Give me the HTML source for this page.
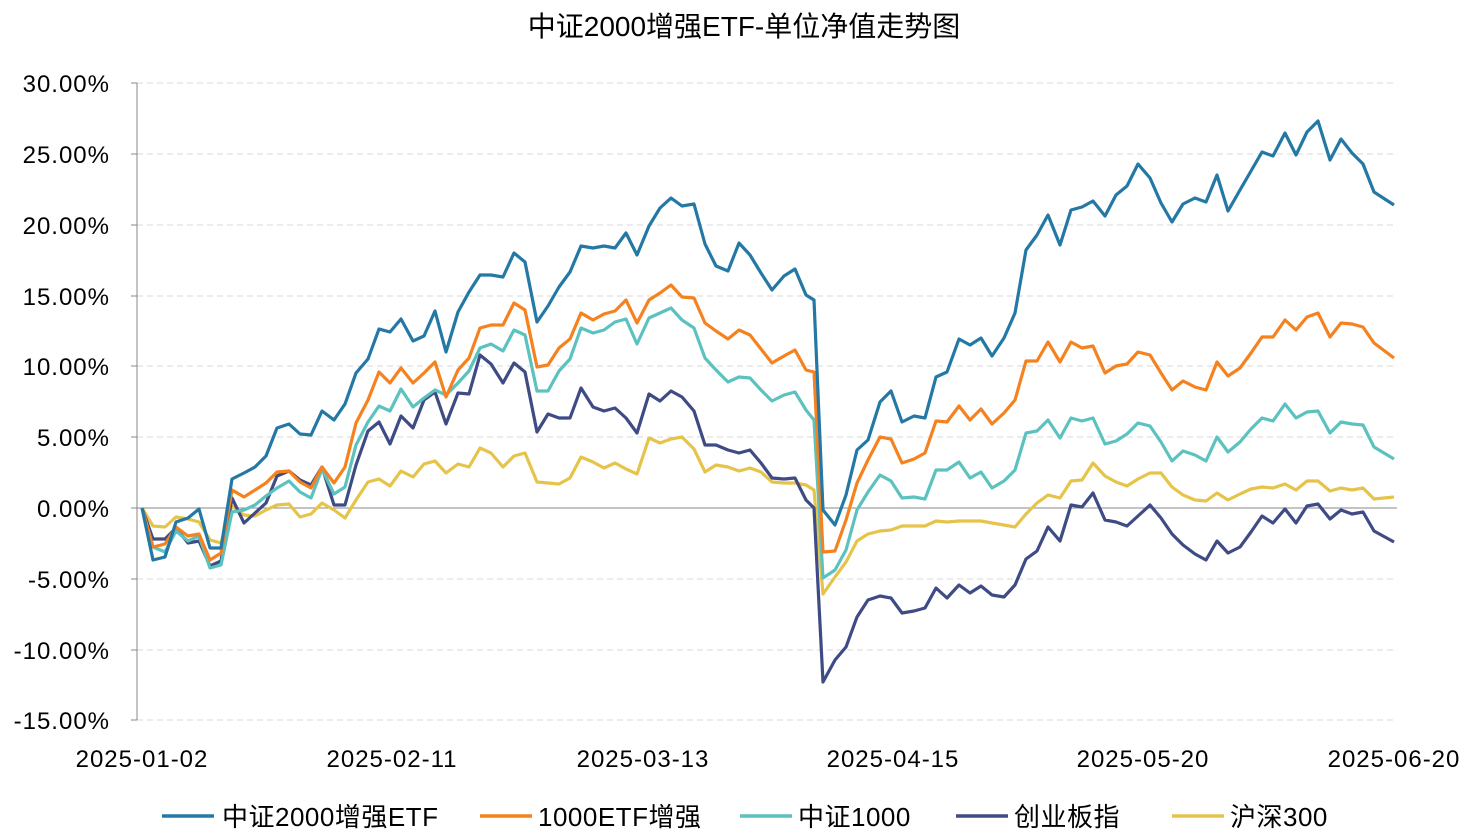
<!DOCTYPE html>
<html><head><meta charset="utf-8"><style>
body{margin:0;background:#fff}
svg{display:block}
text{font-family:"Liberation Sans","Noto Sans CJK SC",sans-serif;fill:#000}
.y{font-size:24px;text-anchor:end;letter-spacing:1px}
.x{font-size:24px;text-anchor:middle;letter-spacing:1px}
.l{fill:none;stroke-width:3.2;stroke-linejoin:round}
</style></head><body>
<svg width="1483" height="839" viewBox="0 0 1483 839">
<text x="744" y="36" font-size="28" text-anchor="middle">中证2000增强ETF-单位净值走势图</text>
<g stroke="#d9d9d9" stroke-dasharray="6,4" stroke-width="1">
<line x1="137" x2="1397" y1="83" y2="83"/><line x1="137" x2="1397" y1="154" y2="154"/><line x1="137" x2="1397" y1="225" y2="225"/><line x1="137" x2="1397" y1="296" y2="296"/><line x1="137" x2="1397" y1="366" y2="366"/><line x1="137" x2="1397" y1="437" y2="437"/><line x1="137" x2="1397" y1="579" y2="579"/><line x1="137" x2="1397" y1="650" y2="650"/><line x1="137" x2="1397" y1="720" y2="720"/>
</g>
<line x1="137" x2="137" y1="83" y2="720" stroke="#888"/>
<line x1="137" x2="1397" y1="508" y2="508" stroke="#888"/>
<g stroke="#888">
<line x1="131" x2="137" y1="83" y2="83"/><line x1="131" x2="137" y1="154" y2="154"/><line x1="131" x2="137" y1="225" y2="225"/><line x1="131" x2="137" y1="296" y2="296"/><line x1="131" x2="137" y1="366" y2="366"/><line x1="131" x2="137" y1="437" y2="437"/><line x1="131" x2="137" y1="508" y2="508"/><line x1="131" x2="137" y1="579" y2="579"/><line x1="131" x2="137" y1="650" y2="650"/><line x1="131" x2="137" y1="720" y2="720"/>
</g>
<text class="y" x="110" y="92">30.00%</text><text class="y" x="110" y="163">25.00%</text><text class="y" x="110" y="234">20.00%</text><text class="y" x="110" y="305">15.00%</text><text class="y" x="110" y="375">10.00%</text><text class="y" x="110" y="446">5.00%</text><text class="y" x="110" y="517">0.00%</text><text class="y" x="110" y="588">-5.00%</text><text class="y" x="110" y="659">-10.00%</text><text class="y" x="110" y="729">-15.00%</text>
<text class="x" x="142" y="767">2025-01-02</text><text class="x" x="392" y="767">2025-02-11</text><text class="x" x="643" y="767">2025-03-13</text><text class="x" x="893" y="767">2025-04-15</text><text class="x" x="1143" y="767">2025-05-20</text><text class="x" x="1394" y="767">2025-06-20</text>
<polyline class="l" stroke="#e6c44a" points="142,508 153,526 165,527 176,517 188,519 199,522 210,540 221,543 232,506 244,515 255,516 266,510 277,505 289,504 300,517 311,514 322,503 334,510 345,518 356,500 368,482 379,479 390,486 401,471 413,477 424,464 435,461 446,473 458,464 469,467 480,448 491,453 503,467 514,456 525,453 537,482 548,483 559,484 570,478 581,457 593,462 604,468 615,463 626,469 637,474 649,438 660,443 671,439 682,437 694,449 705,472 716,465 728,467 739,471 750,468 761,472 772,482 784,483 795,483 806,485 814,490 823,594 835,577 846,562 857,541 868,534 880,531 891,530 902,526 914,526 925,526 936,521 947,522 959,521 970,521 981,521 992,523 1004,525 1015,527 1026,514 1037,503 1048,495 1060,498 1071,481 1082,480 1093,463 1105,476 1116,482 1127,486 1138,479 1150,473 1161,473 1172,487 1183,495 1195,500 1206,501 1217,493 1228,500 1240,494 1251,489 1262,487 1273,488 1285,484 1296,490 1307,481 1318,481 1330,491 1341,488 1352,490 1363,488 1374,499 1394,497"/>
<polyline class="l" stroke="#3f4b84" points="142,508 153,539 165,539 176,528 188,543 199,541 210,566 221,561 232,498 244,523 255,513 266,503 277,476 289,471 300,480 311,485 322,467 334,505 345,505 356,465 368,431 379,422 390,444 401,416 413,428 424,400 435,392 446,424 458,393 469,394 480,355 491,364 503,383 514,363 525,372 537,432 548,414 559,418 570,418 581,388 593,407 604,411 615,408 626,418 637,433 649,394 660,401 671,391 682,397 694,411 705,445 716,445 728,450 739,453 750,450 761,463 772,478 784,479 795,478 806,500 814,508 823,682 835,660 846,647 857,617 868,600 880,596 891,598 902,613 914,611 925,608 936,588 947,598 959,585 970,593 981,586 992,595 1004,597 1015,585 1026,559 1037,551 1048,527 1060,541 1071,505 1082,507 1093,493 1105,520 1116,522 1127,526 1138,516 1150,505 1161,518 1172,534 1183,545 1195,554 1206,560 1217,541 1228,553 1240,547 1251,532 1262,516 1273,523 1285,509 1296,523 1307,506 1318,504 1330,519 1341,510 1352,514 1363,512 1374,531 1394,542"/>
<polyline class="l" stroke="#5bc2bf" points="142,508 153,547 165,552 176,531 188,541 199,536 210,568 221,565 232,512 244,510 255,505 266,496 277,488 289,481 300,492 311,498 322,469 334,494 345,487 356,445 368,422 379,406 390,411 401,389 413,407 424,398 435,390 446,395 458,383 469,371 480,348 491,344 503,351 514,330 525,335 537,391 548,391 559,371 570,359 581,328 593,333 604,330 615,322 626,319 637,344 649,318 660,313 671,308 682,320 694,328 705,358 716,370 728,382 739,377 750,378 761,390 772,401 784,395 795,392 806,410 814,420 823,578 835,570 846,550 857,510 868,492 880,475 891,481 902,498 914,497 925,499 936,470 947,470 959,462 970,478 981,472 992,488 1004,481 1015,470 1026,433 1037,431 1048,420 1060,438 1071,418 1082,421 1093,418 1105,444 1116,441 1127,434 1138,423 1150,426 1161,442 1172,461 1183,451 1195,455 1206,461 1217,437 1228,452 1240,442 1251,429 1262,418 1273,421 1285,404 1296,418 1307,412 1318,411 1330,433 1341,422 1352,424 1363,425 1374,447 1394,459"/>
<polyline class="l" stroke="#f5821f" points="142,508 153,547 165,544 176,527 188,536 199,534 210,560 221,553 232,490 244,497 255,490 266,483 277,472 289,471 300,482 311,488 322,467 334,483 345,467 356,423 368,400 379,372 390,383 401,368 413,383 424,373 435,362 446,397 458,370 469,358 480,328 491,325 503,325 514,303 525,310 537,367 548,365 559,348 570,339 581,313 593,320 604,314 615,311 626,300 637,323 649,300 660,293 671,285 682,297 694,298 705,323 716,331 728,339 739,330 750,335 761,349 772,363 784,356 795,350 806,370 814,372 823,552 835,551 846,520 857,483 868,460 880,437 891,439 902,463 914,459 925,453 936,421 947,422 959,406 970,420 981,409 992,424 1004,413 1015,400 1026,361 1037,361 1048,342 1060,362 1071,342 1082,348 1093,346 1105,373 1116,366 1127,364 1138,352 1150,355 1161,373 1172,390 1183,381 1195,387 1206,390 1217,362 1228,376 1240,368 1251,353 1262,337 1273,337 1285,320 1296,330 1307,317 1318,313 1330,337 1341,323 1352,324 1363,327 1374,343 1394,358"/>
<polyline class="l" stroke="#2378a5" points="142,508 153,560 165,557 176,522 188,518 199,509 210,548 221,548 232,479 244,473 255,467 266,456 277,428 289,424 300,434 311,435 322,411 334,420 345,404 356,373 368,359 379,329 390,332 401,319 413,341 424,336 435,311 446,352 458,312 469,292 480,275 491,275 503,277 514,253 525,262 537,322 548,306 559,287 570,272 581,246 593,248 604,246 615,248 626,233 637,255 649,226 660,208 671,198 682,206 694,204 705,244 716,266 728,271 739,243 750,255 761,273 772,290 784,276 795,269 806,295 814,300 823,510 835,525 846,495 857,450 868,440 880,402 891,391 902,422 914,416 925,418 936,377 947,372 959,339 970,345 981,338 992,356 1004,338 1015,313 1026,250 1037,235 1048,215 1060,245 1071,210 1082,207 1093,201 1105,216 1116,195 1127,186 1138,164 1150,178 1161,203 1172,222 1183,204 1195,198 1206,202 1217,175 1228,211 1240,190 1251,171 1262,152 1273,156 1285,133 1296,155 1307,132 1318,121 1330,160 1341,139 1352,153 1363,164 1374,192 1394,205"/>
<g font-size="26" letter-spacing="0.5">
<line x1="162" x2="214" y1="816" y2="816" stroke="#2378a5" stroke-width="3.5"/><text x="222" y="826">中证2000增强ETF</text>
<line x1="480" x2="532" y1="816" y2="816" stroke="#f5821f" stroke-width="3.5"/><text x="538" y="826">1000ETF增强</text>
<line x1="740" x2="792" y1="816" y2="816" stroke="#5bc2bf" stroke-width="3.5"/><text x="798" y="826">中证1000</text>
<line x1="956" x2="1008" y1="816" y2="816" stroke="#3f4b84" stroke-width="3.5"/><text x="1014" y="826">创业板指</text>
<line x1="1172" x2="1224" y1="816" y2="816" stroke="#e6c44a" stroke-width="3.5"/><text x="1230" y="826">沪深300</text>
</g>
</svg>
</body></html>
